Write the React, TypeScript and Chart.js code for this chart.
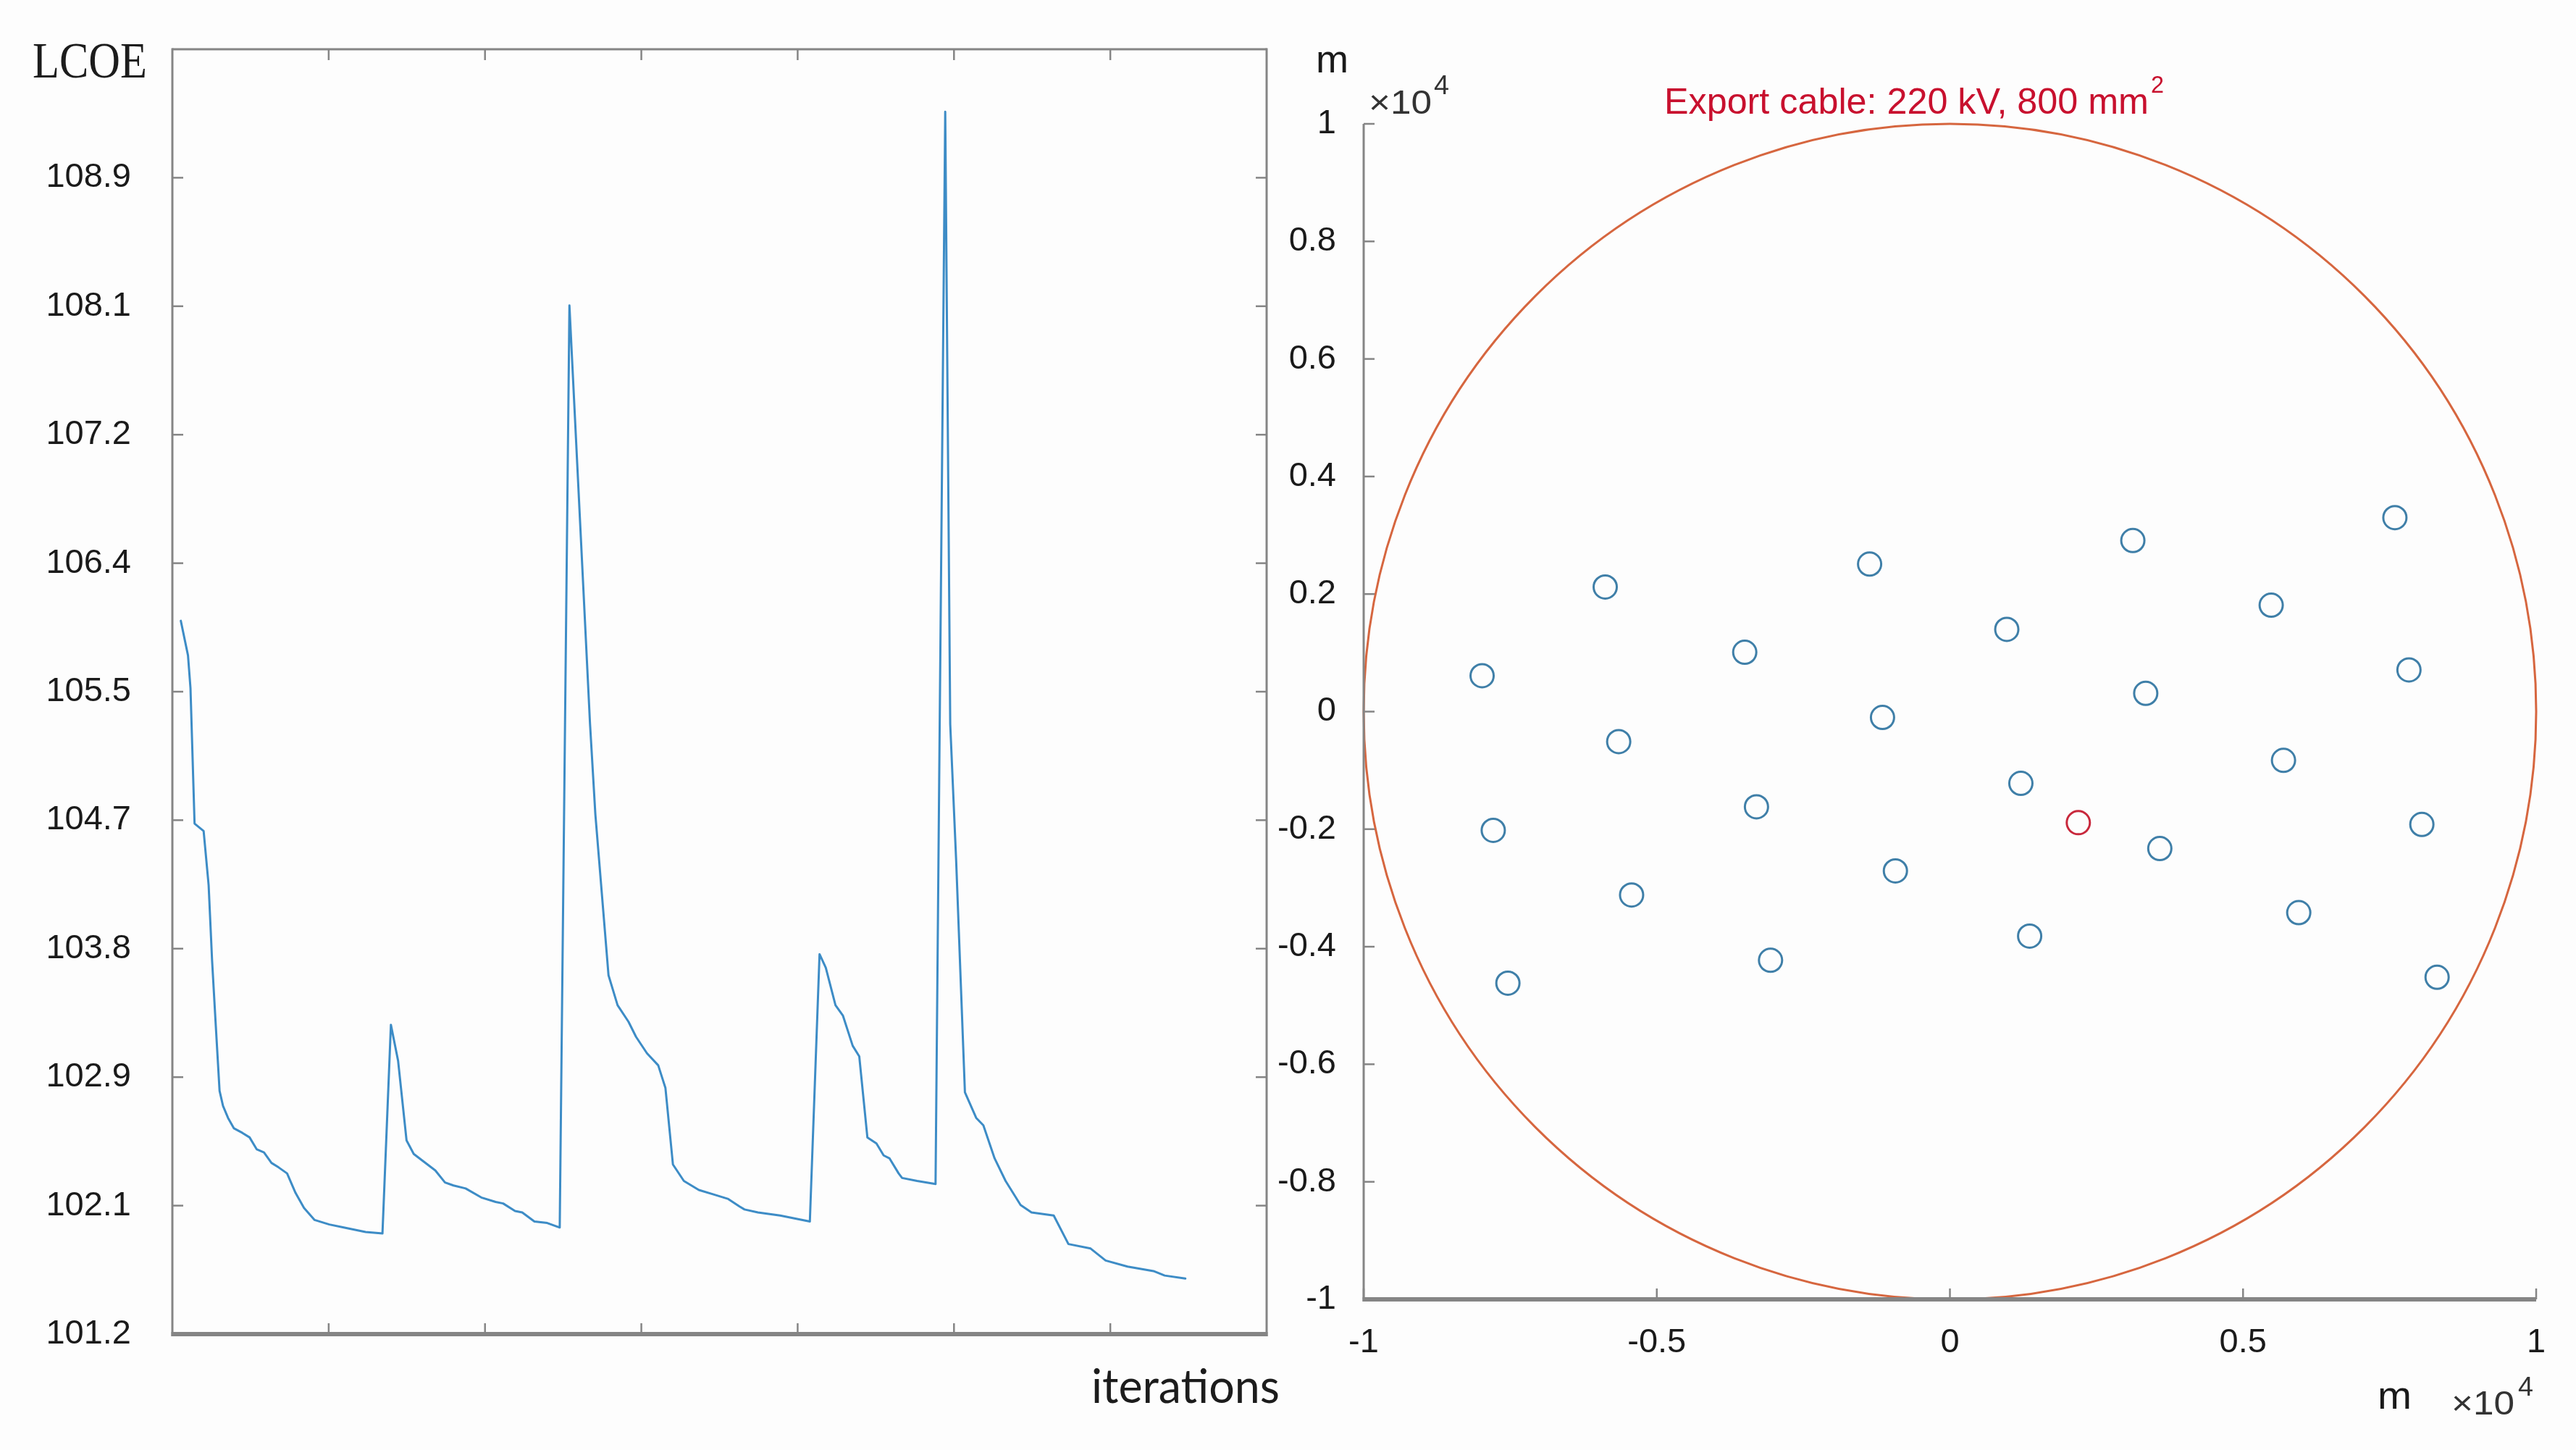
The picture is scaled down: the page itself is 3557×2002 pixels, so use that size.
import React, { useEffect, useRef } from "react";
import { Chart, registerables } from "chart.js";

Chart.register(...registerables);

// ---------------- Left panel: LCOE over iterations ----------------
const iterations = [
  2.7, 5.0, 5.8, 7.1, 10.0, 11.6, 12.7, 13.9, 15.1, 16.2, 17.8, 19.7, 22.4, 24.7, 27.0, 29.3, 31.7, 34.0,
  36.7, 39.4, 42.1, 45.5, 50.2, 54.8, 61.8, 67.2, 69.9, 72.2, 74.9, 77.2, 80.3, 84.1, 87.2, 89.9, 93.8,
  98.8, 103.4, 105.8, 109.6, 111.9, 115.8, 119.9, 123.9, 127.0, 133.6, 135.3, 139.5, 142.4, 145.9, 148.3,
  151.8, 155.4, 157.7, 160.1, 163.6, 168.4, 173.1, 177.8, 181.4, 183.0, 187.3, 194.4, 203.9, 207.0, 209.0,
  212.1, 214.5, 217.6, 219.7, 222.3, 225.2, 227.5, 229.4, 232.3, 233.4, 238.2, 244.1, 247.2, 248.8, 250.7,
  253.5, 257.1, 259.4, 263.0, 266.5, 271.3, 274.8, 281.9, 286.6, 293.7, 298.5, 305.5, 313.8, 317.4, 324.0,
];
const lcoeValues = [
  105.95, 105.72, 105.5, 104.6, 104.55, 104.19, 103.69, 103.25, 102.82, 102.72, 102.64, 102.57, 102.54,
  102.51, 102.43, 102.41, 102.34, 102.31, 102.27, 102.14, 102.04, 101.96, 101.93, 101.91, 101.88, 101.87,
  103.26, 103.02, 102.49, 102.4, 102.35, 102.29, 102.21, 102.19, 102.17, 102.11, 102.08, 102.07, 102.02,
  102.01, 101.95, 101.94, 101.91, 108.05, 105.26, 104.66, 103.59, 103.39, 103.28, 103.18, 103.07, 102.99,
  102.84, 102.33, 102.22, 102.16, 102.13, 102.1, 102.05, 102.03, 102.01, 101.99, 101.95, 103.73, 103.64,
  103.39, 103.32, 103.12, 103.05, 102.51, 102.47, 102.39, 102.37, 102.27, 102.24, 102.22, 102.2, 109.34,
  105.26, 104.35, 102.81, 102.64, 102.59, 102.37, 102.22, 102.06, 102.01, 101.99, 101.8, 101.77, 101.69,
  101.65, 101.62, 101.59, 101.57,
];
const lcoeTickLabels = ["101.2", "102.1", "102.9", "103.8", "104.7", "105.5", "106.4", "107.2", "108.1", "108.9"];
const lcoeAxisMin = 101.2;
const lcoeTickStep = 0.8556;
const lcoeAxisSteps = 10;
const iterationTicks = [50, 100, 150, 200, 250, 300];
const iterationMax = 350;

// ---------------- Right panel: wind farm layout (m) ----------------
const turbineX = [
  -7980, -5880, -7790, -7540, -5650, -5430, -3500, -3300, -3060, -1370, -1150, -930, 970, 1210, 1360,
  3120, 3340, 3580, 5480, 5690, 5950, 7590, 7830, 8050, 8310,
];
const turbineY = [
  610, 2120, -2020, -4620, -510, -3120, 1010, -1620, -4230, 2510, -100, -2710, 1400, -1220, -3820, 2910,
  310, -2330, 1810, -830, -3420, 3300, 710, -1920, -4520,
];
const substationX = [2190];
const substationY = [-1890];
const siteRadius = 10000;
const layoutTicksX = [-10000, -5000, 0, 5000, 10000];
const layoutTicksY = [-10000, -8000, -6000, -4000, -2000, 0, 2000, 4000, 6000, 8000, 10000];

const PAGE_W = 3557;
const PAGE_H = 2002;
const SANS = '"Liberation Sans", Arial, Helvetica, sans-serif';
const SERIF = '"Liberation Serif", "Times New Roman", serif';
const TICK_FONT = { family: SANS, size: 47 };
const AXIS_GRAY = "#858585";

type TextItem = {
  text: string;
  x: number;
  y: number;
  size: number;
  family: string;
  color: string;
  width?: number;
};

function drawText(ctx: CanvasRenderingContext2D, t: TextItem) {
  ctx.save();
  ctx.font = `${t.size}px ${t.family}`;
  ctx.fillStyle = t.color;
  ctx.textBaseline = "alphabetic";
  ctx.textAlign = "left";
  const w = ctx.measureText(t.text).width;
  const sx = t.width ? t.width / w : 1;
  ctx.translate(t.x, t.y);
  ctx.scale(sx, 1);
  ctx.fillText(t.text, 0, 0);
  ctx.restore();
}

type DecorOpts = {
  frame: { top: number; right: number; bottom: number; left: number };
  xTicks: number[];
  yTicks: number[];
  tickSides: { top: boolean; bottom: boolean; left: boolean; right: boolean };
  tickLen: number;
  texts: TextItem[];
  circle?: { r: number; color: string; width: number };
};

function makeDecor(o: DecorOpts) {
  return {
    id: "decor",
    beforeDatasetsDraw(chart: any) {
      const { ctx, scales } = chart;
      if (o.circle) {
        const cx = scales.x.getPixelForValue(0);
        const cy = scales.y.getPixelForValue(0);
        const rx = scales.x.getPixelForValue(o.circle.r) - cx;
        const ry = cy - scales.y.getPixelForValue(o.circle.r);
        ctx.save();
        ctx.strokeStyle = o.circle.color;
        ctx.lineWidth = o.circle.width;
        ctx.beginPath();
        ctx.ellipse(cx, cy, rx, ry, 0, 0, Math.PI * 2);
        ctx.stroke();
        ctx.restore();
      }
    },
    afterDraw(chart: any) {
      const { ctx, chartArea: a, scales } = chart;
      ctx.save();
      ctx.strokeStyle = AXIS_GRAY;
      ctx.lineCap = "butt";
      const seg = (x1: number, y1: number, x2: number, y2: number, w: number) => {
        if (w <= 0) return;
        ctx.lineWidth = w;
        ctx.beginPath();
        ctx.moveTo(x1, y1);
        ctx.lineTo(x2, y2);
        ctx.stroke();
      };
      const f = o.frame;
      seg(a.left, a.top, a.right, a.top, f.top);
      seg(a.right, a.top - f.top / 2, a.right, a.bottom + f.bottom / 2, f.right);
      seg(a.left, a.top - f.top / 2, a.left, a.bottom + f.bottom / 2, f.left);
      seg(a.left - f.left / 2, a.bottom, a.right + f.right / 2, a.bottom, f.bottom);
      const L = o.tickLen;
      for (const v of o.xTicks) {
        const px = scales.x.getPixelForValue(v);
        if (o.tickSides.bottom) seg(px, a.bottom, px, a.bottom - L, 2.5);
        if (o.tickSides.top) seg(px, a.top, px, a.top + L, 2.5);
      }
      for (const v of o.yTicks) {
        const py = scales.y.getPixelForValue(v);
        if (o.tickSides.left) seg(a.left, py, a.left + L, py, 2.5);
        if (o.tickSides.right) seg(a.right, py, a.right - L, py, 2.5);
      }
      ctx.restore();
      for (const t of o.texts) drawText(ctx, t);
    },
  };
}

function LcoeChart() {
  const ref = useRef<HTMLCanvasElement | null>(null);
  useEffect(() => {
    if (!ref.current) return;
    const canvasW = 1800;
    const areaLeft = 238;
    const areaRight = 1749;
    const areaTop = 68;
    const areaBottom = 1842;
    const yTickValues = lcoeTickLabels.map((_, i) => lcoeAxisMin + i * lcoeTickStep);
    const decor = makeDecor({
      frame: { top: 3, right: 3, bottom: 6, left: 3 },
      xTicks: iterationTicks,
      yTicks: yTickValues,
      tickSides: { top: true, bottom: true, left: true, right: true },
      tickLen: 15,
      texts: [
        { text: "LCOE", x: 45, y: 107, size: 70, family: SERIF, color: "#1c1c1c", width: 158 },
        { text: "iterations", x: 1507, y: 1937, size: 66, family: 'Lato, "Open Sans", sans-serif', color: "#1c1c1c", width: 260 },
      ],
    });
    const chart = new Chart(ref.current, {
      type: "line",
      data: {
        datasets: [
          {
            data: iterations.map((x, i) => ({ x, y: lcoeValues[i] })),
            borderColor: "#3d8cc6",
            borderWidth: 3,
            borderJoinStyle: "round",
            borderCapStyle: "round",
            pointRadius: 0,
            tension: 0,
            fill: false,
          },
        ],
      },
      options: {
        responsive: false,
        animation: false,
        layout: { padding: { top: areaTop, right: canvasW - areaRight, left: 0, bottom: 0 } },
        plugins: { legend: { display: false }, tooltip: { enabled: false }, title: { display: false } },
        scales: {
          x: {
            type: "linear",
            min: 0,
            max: iterationMax,
            grid: { display: false, drawTicks: false },
            border: { display: false },
            ticks: { display: false },
            afterFit: (s: any) => {
              s.height = PAGE_H - areaBottom;
            },
          },
          y: {
            type: "linear",
            min: lcoeAxisMin,
            max: lcoeAxisMin + lcoeAxisSteps * lcoeTickStep,
            afterBuildTicks: (s: any) => {
              s.ticks = yTickValues.map((value) => ({ value }));
            },
            grid: { display: false, drawTicks: false },
            border: { display: false },
            ticks: {
              autoSkip: false,
              padding: 57,
              color: "#1a1a1a",
              font: { family: SANS, size: 47, lineHeight: 0.2 },
              callback: (_v: any, i: number) => lcoeTickLabels[i],
            },
            afterFit: (s: any) => {
              s.width = areaLeft;
            },
          },
        },
      },
      plugins: [decor],
    } as any);
    return () => chart.destroy();
  }, []);
  return (
    <canvas
      ref={ref}
      width={1800}
      height={PAGE_H}
      style={{ position: "absolute", left: 0, top: 0, width: 1800, height: PAGE_H }}
    />
  );
}

function LayoutChart() {
  const ref = useRef<HTMLCanvasElement | null>(null);
  const offsetX = 1760;
  const canvasW = PAGE_W - offsetX;
  useEffect(() => {
    if (!ref.current) return;
    const areaLeft = 1883 - offsetX;
    const areaRight = 3502 - offsetX;
    const areaTop = 171;
    const areaBottom = 1794;
    const red = "#c8102e";
    const fmt = (v: number) => String(Math.round(v / 1000) / 10);
    const decor = makeDecor({
      frame: { top: 0, right: 0, bottom: 6, left: 3 },
      xTicks: layoutTicksX,
      yTicks: layoutTicksY,
      tickSides: { top: false, bottom: true, left: true, right: false },
      tickLen: 15,
      circle: { r: siteRadius, color: "#d6663f", width: 3 },
      texts: [
        { text: "m", x: 1817 - offsetX, y: 100, size: 54, family: SANS, color: "#1a1a1a", width: 45 },
        { text: "×10", x: 1890 - offsetX, y: 157, size: 47, family: SANS, color: "#333", width: 87 },
        { text: "4", x: 1980 - offsetX, y: 130, size: 36, family: SANS, color: "#333", width: 21 },
        { text: "Export cable: 220 kV, 800 mm", x: 2298 - offsetX, y: 157, size: 50, family: SANS, color: red, width: 669 },
        { text: "2", x: 2970 - offsetX, y: 128, size: 34, family: SANS, color: red, width: 18 },
        { text: "m", x: 3283 - offsetX, y: 1945, size: 54, family: SANS, color: "#1a1a1a", width: 47 },
        { text: "×10", x: 3385 - offsetX, y: 1953, size: 47, family: SANS, color: "#333", width: 87 },
        { text: "4", x: 3477 - offsetX, y: 1927, size: 36, family: SANS, color: "#333", width: 21 },
      ],
    });
    const chart = new Chart(ref.current, {
      type: "scatter",
      data: {
        datasets: [
          {
            data: turbineX.map((x, i) => ({ x, y: turbineY[i] })),
            pointStyle: "circle",
            pointRadius: 16,
            borderWidth: 3,
            borderColor: "#3f7fa8",
            backgroundColor: "rgba(0,0,0,0)",
          },
          {
            data: substationX.map((x, i) => ({ x, y: substationY[i] })),
            pointStyle: "circle",
            pointRadius: 16,
            borderWidth: 3,
            borderColor: "#c8283c",
            backgroundColor: "rgba(0,0,0,0)",
          },
        ],
      },
      options: {
        responsive: false,
        animation: false,
        layout: { padding: { top: areaTop, right: canvasW - areaRight, left: 0, bottom: 0 } },
        plugins: { legend: { display: false }, tooltip: { enabled: false }, title: { display: false } },
        scales: {
          x: {
            type: "linear",
            min: -siteRadius,
            max: siteRadius,
            afterBuildTicks: (s: any) => {
              s.ticks = layoutTicksX.map((value) => ({ value }));
            },
            grid: { display: false, drawTicks: false },
            border: { display: false },
            ticks: { autoSkip: false, maxRotation: 0, padding: 32, color: "#1a1a1a", font: TICK_FONT, callback: (v: any) => fmt(Number(v)) },
            afterFit: (s: any) => {
              s.height = PAGE_H - areaBottom;
            },
          },
          y: {
            type: "linear",
            min: -siteRadius,
            max: siteRadius,
            afterBuildTicks: (s: any) => {
              s.ticks = layoutTicksY.map((value) => ({ value }));
            },
            grid: { display: false, drawTicks: false },
            border: { display: false },
            ticks: { autoSkip: false, padding: 38, color: "#1a1a1a", font: TICK_FONT, callback: (v: any) => fmt(Number(v)) },
            afterFit: (s: any) => {
              s.width = areaLeft;
            },
          },
        },
      },
      plugins: [decor],
    } as any);
    return () => chart.destroy();
  }, []);
  return (
    <canvas
      ref={ref}
      width={canvasW}
      height={PAGE_H}
      style={{ position: "absolute", left: offsetX, top: 0, width: canvasW, height: PAGE_H }}
    />
  );
}

export default function App() {
  return (
    <div style={{ position: "fixed", left: 0, top: 0, width: PAGE_W, height: PAGE_H, background: "#fdfdfd", overflow: "hidden" }}>
      <LcoeChart />
      <LayoutChart />
    </div>
  );
}
